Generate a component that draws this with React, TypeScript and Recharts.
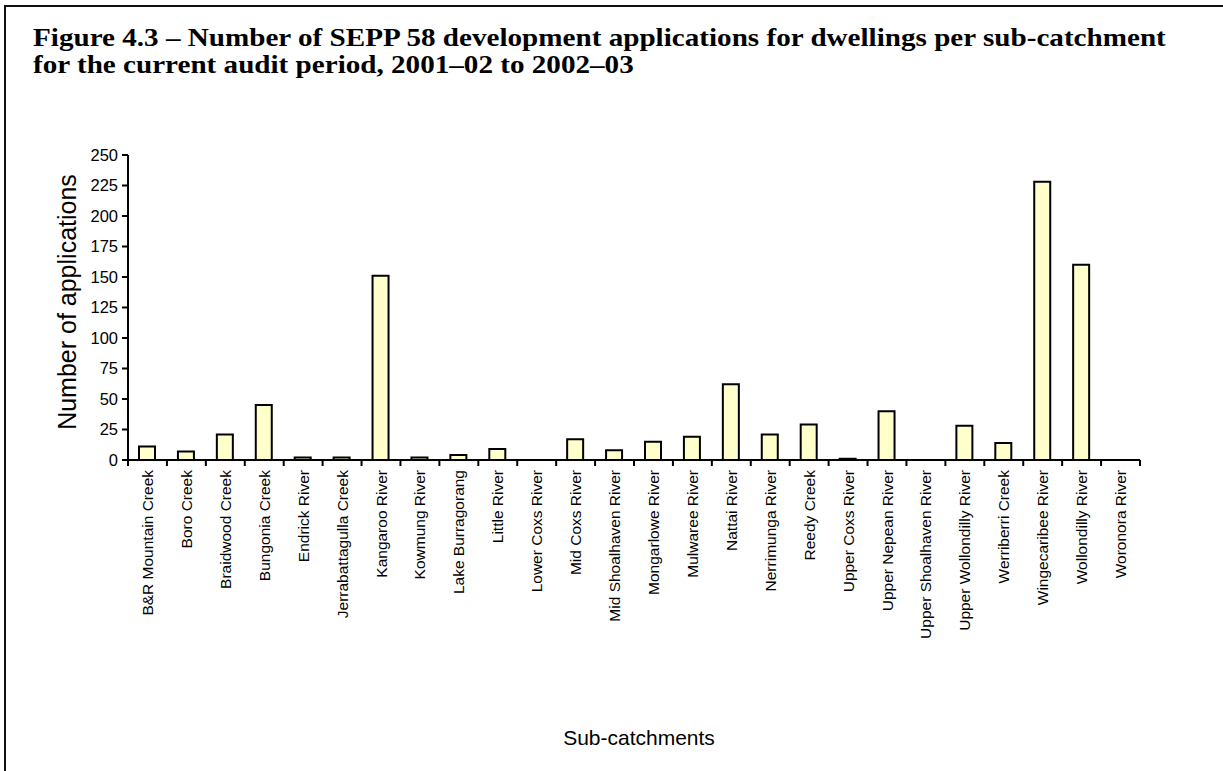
import React from "react";
import { BarChart, Bar, XAxis, YAxis } from "recharts";

const categories = [
  "B&R Mountain Creek",
  "Boro Creek",
  "Braidwood Creek",
  "Bungonia Creek",
  "Endrick River",
  "Jerrabattagulla Creek",
  "Kangaroo River",
  "Kowmung River",
  "Lake Burragorang",
  "Little River",
  "Lower Coxs River",
  "Mid Coxs River",
  "Mid Shoalhaven River",
  "Mongarlowe River",
  "Mulwaree River",
  "Nattai River",
  "Nerrimunga River",
  "Reedy Creek",
  "Upper Coxs River",
  "Upper Nepean River",
  "Upper Shoalhaven River",
  "Upper Wollondilly River",
  "Werriberri Creek",
  "Wingecaribee River",
  "Wollondilly River",
  "Woronora River",
];

const applications = [
  11, 7, 21, 45, 2, 2, 151, 2, 4, 9, 0, 17, 8, 15, 19, 62, 21, 29, 1, 40, 0, 28, 14, 228, 160, 0,
];

const yTicks = [0, 25, 50, 75, 100, 125, 150, 175, 200, 225, 250];

const titleLine1 =
  "Figure 4.3 \u2013 Number of SEPP 58 development applications for dwellings per sub-catchment";
const titleLine2 = "for the current audit period, 2001\u201302 to 2002\u201303";
const yTitle = "Number of applications";
const xTitle = "Sub-catchments";

const data = categories.map((name, i) => ({ name, value: applications[i] }));

const W = 1223;
const H = 771;
const PLOT_LEFT = 128;
const PLOT_RIGHT = 1140;
const PLOT_TOP = 155;
const PLOT_BOTTOM = 460;
const Y_AXIS_W = 60;
const X_AXIS_H = 150;
const BAND = (PLOT_RIGHT - PLOT_LEFT) / categories.length;
const SANS = "'Liberation Sans', Arial, sans-serif";
const SERIF = "'Liberation Serif', 'Times New Roman', serif";

const XTick = (props: any) => {
  const { x, y, payload, index } = props;
  const isLast = index === categories.length - 1;
  return (
    <g>
      <line x1={x - BAND / 2} x2={x - BAND / 2} y1={y} y2={y + 6} stroke="#000" strokeWidth={2} />
      {isLast && (
        <line x1={x + BAND / 2} x2={x + BAND / 2} y1={y} y2={y + 6} stroke="#000" strokeWidth={2} />
      )}
      <text
        transform={`translate(${x + 5.5},${y + 10}) rotate(-90)`}
        textAnchor="end"
        fontSize={15.5}
        fontFamily={SANS}
        fill="#000"
      >
        {payload.value}
      </text>
    </g>
  );
};

const titleStyle: React.CSSProperties = {
  position: "absolute",
  left: 33,
  fontFamily: SERIF,
  fontWeight: "bold",
  fontSize: 25.5,
  lineHeight: "25px",
  whiteSpace: "nowrap",
  color: "#000",
  transform: "scaleX(1.142)",
  transformOrigin: "0 0",
};

export default function App() {
  return (
    <div
      style={{
        position: "absolute",
        left: 0,
        top: 0,
        width: W,
        height: H,
        background: "#fff",
        overflow: "hidden",
      }}
    >
      <div
        style={{
          position: "absolute",
          left: 4,
          top: 5,
          width: W + 20,
          height: H + 20,
          borderLeft: "2px solid #111",
          borderTop: "2px solid #111",
        }}
      />
      <div style={{ ...titleStyle, top: 25 }}>{titleLine1}</div>
      <div style={{ ...titleStyle, top: 52 }}>{titleLine2}</div>
      <div style={{ position: "absolute", left: 0, top: 0 }}>
        <BarChart
          width={W}
          height={H}
          data={data}
          margin={{
            top: PLOT_TOP,
            right: W - PLOT_RIGHT,
            left: PLOT_LEFT - Y_AXIS_W,
            bottom: H - PLOT_BOTTOM - X_AXIS_H,
          }}
        >
          <XAxis
            dataKey="name"
            interval={0}
            height={X_AXIS_H}
            tickLine={false}
            tickSize={0}
            tickMargin={0}
            axisLine={{ stroke: "#000", strokeWidth: 2 }}
            tick={<XTick />}
          />
          <YAxis
            width={Y_AXIS_W}
            domain={[0, 250]}
            ticks={yTicks}
            interval={0}
            allowDataOverflow
            axisLine={{ stroke: "#000", strokeWidth: 2 }}
            tickLine={{ stroke: "#000", strokeWidth: 2 }}
            tickSize={6}
            tickMargin={4}
            tick={{ fontSize: 16.5, fontFamily: SANS, fill: "#000" }}
          />
          <Bar
            dataKey="value"
            fill="#FFFFCC"
            stroke="#000"
            strokeWidth={2}
            barSize={16}
            isAnimationActive={false}
          />
        </BarChart>
      </div>
      <div
        style={{
          position: "absolute",
          left: 67,
          top: 302,
          transform: "translate(-50%, -50%) rotate(-90deg)",
          fontFamily: SANS,
          fontSize: 25,
          whiteSpace: "nowrap",
          color: "#000",
        }}
      >
        {yTitle}
      </div>
      <div
        style={{
          position: "absolute",
          left: 639,
          top: 738,
          transform: "translate(-50%, -50%)",
          fontFamily: SANS,
          fontSize: 21,
          whiteSpace: "nowrap",
          color: "#000",
        }}
      >
        {xTitle}
      </div>
    </div>
  );
}
